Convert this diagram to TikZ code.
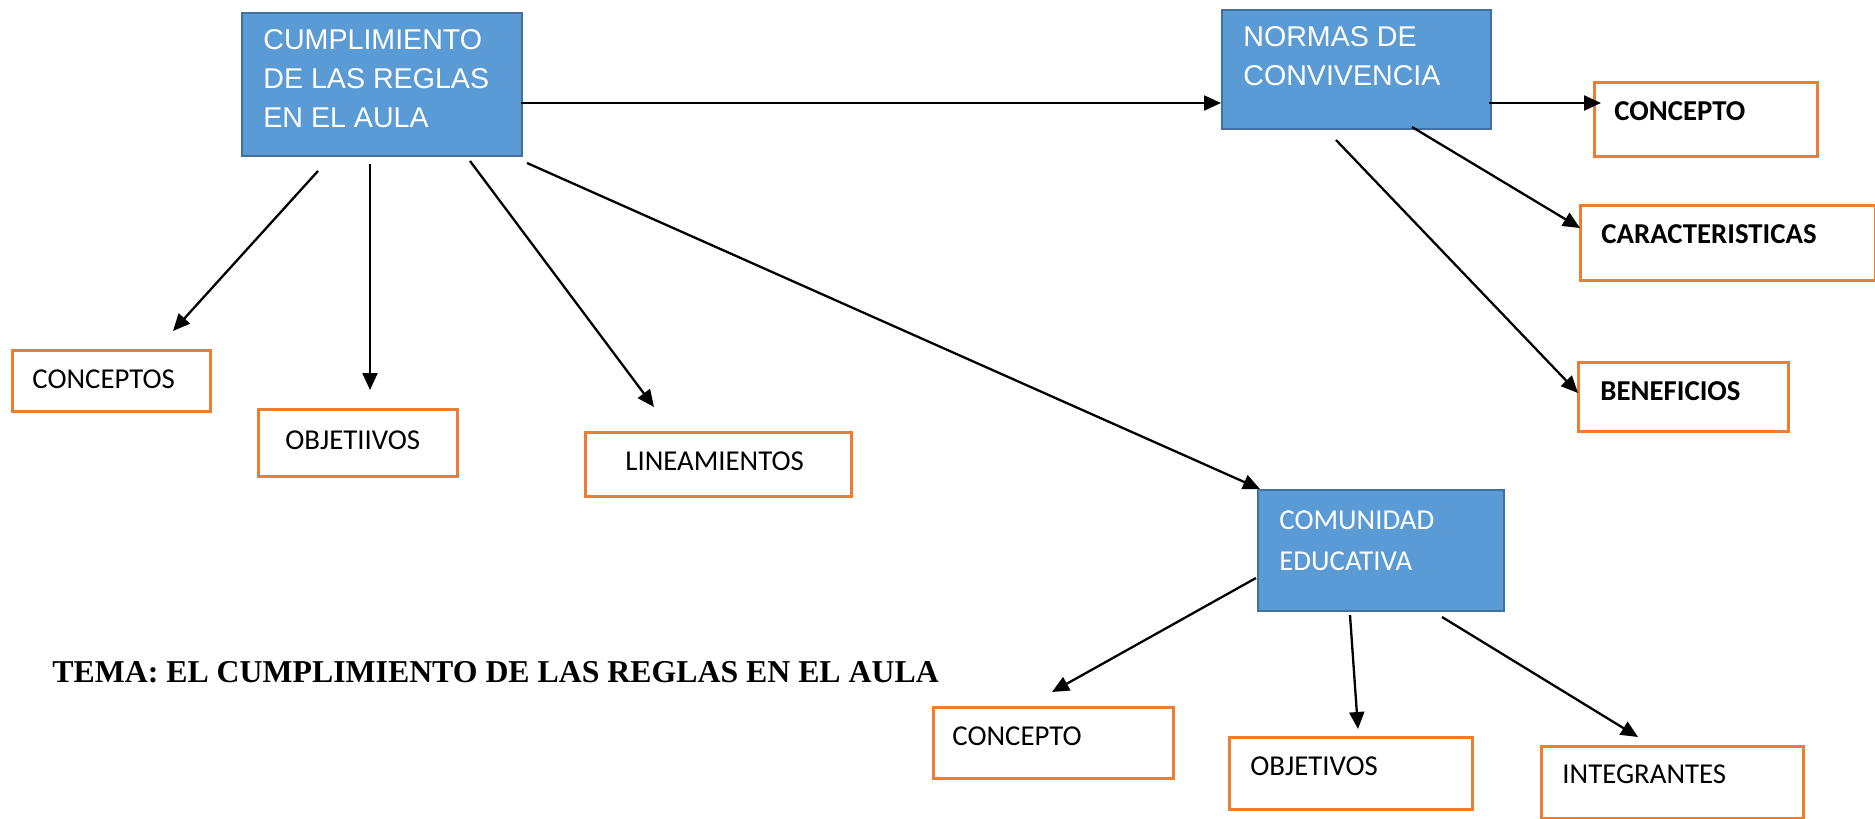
\documentclass[tikz,border=0pt]{standalone}
\usepackage{fontspec}
\usetikzlibrary{arrows.meta}
\newfontfamily\arialf{Liberation Sans}
\newfontfamily\calf{Carlito}
\newfontfamily\timesf{Liberation Serif}
\definecolor{bfill}{HTML}{5B9BD5}
\definecolor{bdraw}{HTML}{41719C}
\definecolor{obox}{HTML}{ED7D31}
\tikzset{
  bluebox/.style={draw=bdraw, fill=bfill, line width=1pt, inner sep=0pt, anchor=north west},
  orgbox/.style={draw=obox, fill=white, line width=1.25pt, inner sep=0pt, anchor=north west},
  btxt/.style={text=white, inner sep=0pt, anchor=north west, align=left},
  otxt/.style={text=black, inner sep=0pt, anchor=base west, font=\calf\fontsize{14.4}{17}\selectfont},
  obtxt/.style={otxt, font=\calf\bfseries\fontsize{14.4}{17}\selectfont},
  arr/.style={line width=1.15pt, -{Triangle[length=8.5pt,width=7.5pt]}}
}
\begin{document}
\begin{tikzpicture}[x=0.5pt,y=-0.5pt]
\useasboundingbox (0,0) rectangle (1875,819);
% blue boxes
\node[bluebox, minimum width=140pt, minimum height=71.5pt] (c1) at (241,12) {};
\node[bluebox, minimum width=134.5pt, minimum height=59.5pt] (nc) at (1221,9) {};
\node[bluebox, minimum width=123pt, minimum height=60.5pt] (ce) at (1257,489) {};
\node[btxt, font=\arialf\fontsize{14.3}{19.5}\selectfont] (c1t) at (263,29.2) {CUMPLIMIENTO\\DE LAS REGLAS\\EN EL AULA};
\node[btxt, font=\arialf\fontsize{14.3}{19.5}\selectfont] (nct) at (1243,26.2) {NORMAS DE\\CONVIVENCIA};
\node[btxt, font=\calf\fontsize{14.4}{20.5}\selectfont] (cet) at (1279,510.4) {COMUNIDAD\\EDUCATIVA};
% orange boxes
\node[orgbox, minimum width=111.5pt, minimum height=37pt] (o1) at (1593,81) {};
\node[orgbox, minimum width=147.5pt, minimum height=37.5pt] (o2) at (1579,204) {};
\node[orgbox, minimum width=105pt, minimum height=34.5pt] (o3) at (1577,361) {};
\node[orgbox, minimum width=99pt, minimum height=30.5pt] (o4) at (11,349) {};
\node[orgbox, minimum width=99.5pt, minimum height=33.5pt] (o5) at (257,408) {};
\node[orgbox, minimum width=133pt, minimum height=32pt] (o6) at (584,431) {};
\node[orgbox, minimum width=120pt, minimum height=35.5pt] (o7) at (932,706) {};
\node[orgbox, minimum width=121.5pt, minimum height=36pt] (o8) at (1228,736) {};
\node[orgbox, minimum width=131pt, minimum height=36pt] (o9) at (1540,745) {};
\node[obtxt] (o1t) at (1614,120) {CONCEPTO};
\node[obtxt] (o2t) at (1601,243) {CARACTERISTICAS};
\node[obtxt] (o3t) at (1600,400) {BENEFICIOS};
\node[otxt] (o4t) at (32,388) {CONCEPTOS};
\node[otxt] (o5t) at (285,449) {OBJETIIVOS};
\node[otxt] (o6t) at (625,470) {LINEAMIENTOS};
\node[otxt] (o7t) at (952,745) {CONCEPTO};
\node[otxt] (o8t) at (1250,775) {OBJETIVOS};
\node[otxt] (o9t) at (1562,783) {INTEGRANTES};
% title
\node[inner sep=0pt, anchor=base west, font=\timesf\bfseries\fontsize{15.9}{18}\selectfont] (tema) at (52,682) {TEMA: EL CUMPLIMIENTO DE LAS REGLAS EN EL AULA};
% connector end points
\coordinate (s1) at (521,103);  \coordinate (e1) at (1221,103);
\coordinate (s2) at (1489,103); \coordinate (e2) at (1601,103);
\coordinate (s3) at (1412,127); \coordinate (e3) at (1580,228);
\coordinate (s4) at (1336,140); \coordinate (e4) at (1578,393);
\coordinate (s5) at (318,171);  \coordinate (e5) at (173,331);
\coordinate (s6) at (370,164);  \coordinate (e6) at (370,390);
\coordinate (s7) at (470,161);  \coordinate (e7) at (654,407);
\coordinate (s8) at (527,163);  \coordinate (e8) at (1260,489);
\coordinate (s9) at (1256,578); \coordinate (e9) at (1052,692);
\coordinate (s10) at (1350,615); \coordinate (e10) at (1358,729);
\coordinate (s11) at (1442,617); \coordinate (e11) at (1638,737);
\foreach \i in {1,...,11} { \draw[arr] (s\i) -- (e\i); }
\end{tikzpicture}
\end{document}
